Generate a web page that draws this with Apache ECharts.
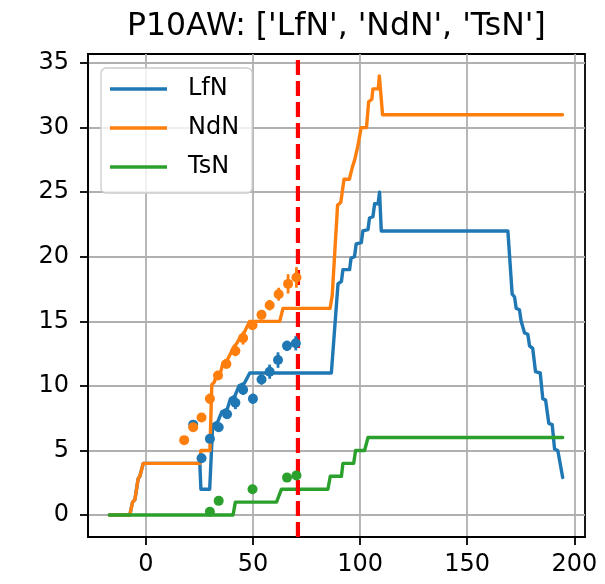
<!DOCTYPE html>
<html>
<head>
<meta charset="utf-8">
<script src="https://cdn.jsdelivr.net/npm/echarts@6/dist/echarts.min.js"></script>
<style>html,body{margin:0;padding:0;background:#fff}#chart{width:605px;height:584px}</style>
</head>
<body>
<div id="chart"></div>
<script>
// ---- data ----
const titleText = "P10AW: ['LfN', 'NdN', 'TsN']";
const seriesNames = ['LfN', 'NdN', 'TsN'];
const xTicks = [0, 50, 100, 150, 200];
const yTicks = [0, 5, 10, 15, 20, 25, 30, 35];

const lfnX = [-17, -7.5, -6.2, -5.1, -3.6, -2.8, -1.2, 25.2, 25.7, 29.8, 31.2, 33.5, 35.5, 38, 39.5, 41.5, 43.5, 46, 48.5, 86.6, 89.7, 91.3, 92.0, 95.1, 95.8, 97.4, 98.2, 100.6, 101.3, 103.7, 104.4, 106.0, 106.8, 108.4, 109.1, 109.9, 169.0, 171.0, 172.1, 172.9, 174.4, 175.2, 176.8, 178.3, 179.1, 180.6, 181.9, 184.1, 185.3, 186.6, 188.1, 189.7, 190.8, 192.3, 194.6];
const lfnY = [0, 0, 1, 1.2, 2.8, 3, 4, 4, 2, 2, 7, 7.2, 8, 8.2, 9, 9.2, 10, 10.2, 11, 11, 17.9, 18.1, 19, 19, 19.9, 20, 21, 21.1, 22, 22.1, 23, 23.1, 24.1, 24.1, 25, 22, 22, 17.1, 16.9, 16, 15.9, 15, 14.1, 14, 13.1, 12.9, 11.1, 11, 9, 8.9, 7.1, 7, 5.1, 5, 2.9];

const ndnX = [-17, -7.5, -6.2, -5.1, -3.6, -2.8, -1.2, 25.2, 25.7, 29.9, 30.8, 32, 33, 35, 36, 38, 39.2, 41, 42.5, 43.8, 45.5, 47, 48.5, 62.5, 64, 86, 87, 89.5, 91, 92.5, 95, 96.5, 97.5, 99, 100.5, 103, 104, 105.5, 106, 108.5, 109, 110.5, 194.5];
const ndnY = [0, 0, 1, 1.2, 2.8, 3, 4, 4, 5, 5, 10.1, 10.3, 10.9, 11.1, 11.8, 12, 12.4, 13, 13.3, 13.7, 14, 14.5, 15, 15, 16, 16, 17, 24, 24.2, 26, 26, 27, 27.5, 28.6, 30, 30, 32, 32.2, 33, 33, 34, 31, 31];

const tsnX = [-17, 40.7, 41.8, 61.0, 63.3, 85.0, 86.1, 91.3, 92.0, 97.0, 97.9, 102.1, 103.7, 194.6];
const tsnY = [0, 0, 1, 1, 2, 2, 3, 3, 4, 4, 5, 5, 6, 6];

const lfnPtX = [22.1, 26.0, 29.9, 34.0, 37.9, 41.8, 45.4, 50.0, 54.0, 57.8, 61.7, 65.9, 70.0];
const lfnPtY = [7.0, 4.4, 5.9, 6.8, 7.8, 8.7, 9.7, 9.0, 10.5, 11.1, 12.0, 13.1, 13.3];
const lfnPtErr = [0.2, 0.2, 0.25, 0.35, 0.35, 0.5, 0.4, 0.4, 0.4, 0.55, 0.6, 0.4, 0.55];

const ndnPtX = [17.9, 22.1, 26.0, 29.9, 33.7, 37.6, 41.8, 45.4, 49.8, 54.0, 57.8, 62.0, 66.4, 70.3];
const ndnPtY = [5.8, 6.8, 7.55, 9.0, 10.8, 11.7, 12.7, 13.7, 14.7, 15.5, 16.25, 17.1, 17.9, 18.4];
const ndnPtErr = [0.2, 0.2, 0.25, 0.4, 0.3, 0.3, 0.4, 0.5, 0.3, 0.35, 0.4, 0.5, 0.75, 0.8];

const tsnPtX = [29.9, 34.0, 49.8, 65.9, 70.3];
const tsnPtY = [0.26, 1.1, 2.0, 2.9, 3.07];
const tsnPtErr = [0.05, 0.05, 0.05, 0.05, 0.05];

const cutoffX = 71;
const xRange = [-27, 205];
const yRange = [-1.7, 35.7];

// ---- build ----
const colors = ['#1f77b4', '#ff7f0e', '#2ca02c'];
const FONT = 'DejaVu Sans';
const zip2 = (a, b) => a.map((v, i) => [v, b[i]]);
const zip3 = (a, b, c) => a.map((v, i) => [v, b[i], c[i]]);

function lineSeries(name, xs, ys, color) {
  return { name, type: 'line', data: zip2(xs, ys), showSymbol: false, symbol: 'none',
    color, lineStyle: { color, width: 3.4, cap: 'round', join: 'round' }, z: 2, silent: true };
}
function errSeries(name, xs, ys, es, color) {
  return { name, type: 'custom', data: zip3(xs, ys, es), z: 4, silent: true,
    renderItem(params, api) {
      const x = api.value(0), y = api.value(1), e = api.value(2);
      const p1 = api.coord([x, y - e]), p2 = api.coord([x, y + e]);
      return { type: 'line', shape: { x1: p1[0], y1: p1[1], x2: p2[0], y2: p2[1] },
        style: { stroke: color, lineWidth: 2.8 } };
    } };
}
function ptSeries(name, xs, ys, color) {
  return { name, type: 'scatter', data: zip2(xs, ys), symbol: 'circle', symbolSize: 10,
    itemStyle: { color, opacity: 1 }, z: 5, silent: true };
}

const chart = echarts.init(document.getElementById('chart'), null, { renderer: 'canvas' });
chart.setOption({
  animation: false,
  backgroundColor: '#fff',
  title: { text: titleText, left: 127, top: 11, padding: 0,
    textStyle: { fontFamily: FONT, fontSize: 31.5, fontWeight: 'normal', color: '#000' } },
  legend: {
    data: seriesNames, orient: 'vertical', left: 101, top: 68,
    padding: [9, 13, 14, 9], itemWidth: 57, itemHeight: 3.5, itemGap: 15, icon: 'rect',
    borderColor: '#cccccc', borderWidth: 1.3, borderRadius: 5, backgroundColor: 'rgba(255,255,255,0.8)',
    textStyle: { fontFamily: FONT, fontSize: 24, color: '#000', padding: [0, 0, 0, 16] },
    selectedMode: false
  },
  grid: { left: 88, right: 20, top: 54, bottom: 47, show: true, borderColor: '#000', borderWidth: 1.8, containLabel: false },
  xAxis: {
    type: 'value', min: xRange[0], max: xRange[1],
    axisLine: { show: true, onZero: false, lineStyle: { color: '#000', width: 1.8 } },
    axisTick: { show: true, customValues: xTicks, length: 8, lineStyle: { color: '#000', width: 1.8 } },
    axisLabel: { customValues: xTicks, fontFamily: FONT, fontSize: 24, color: '#000', margin: 16 },
    splitLine: { show: true, lineStyle: { color: '#b0b0b0', width: 1.8 } }
  },
  yAxis: {
    type: 'value', min: yRange[0], max: yRange[1],
    axisLine: { show: true, onZero: false, lineStyle: { color: '#000', width: 1.8 } },
    axisTick: { show: true, customValues: yTicks, length: 8, lineStyle: { color: '#000', width: 1.8 } },
    axisLabel: { customValues: yTicks, fontFamily: FONT, fontSize: 24, color: '#000', margin: 19 },
    splitLine: { show: true, lineStyle: { color: '#b0b0b0', width: 1.8 } }
  },
  series: [
    lineSeries('LfN', lfnX, lfnY, colors[0]),
    lineSeries('NdN', ndnX, ndnY, colors[1]),
    lineSeries('TsN', tsnX, tsnY, colors[2]),
    { name: 'cutoff', type: 'line', data: [[cutoffX, yRange[0]], [cutoffX, yRange[1]]], symbol: 'none',
      lineStyle: { color: '#ff0000', width: 4.2, type: [15, 6] }, z: 3, silent: true },
    errSeries('LfN_err', lfnPtX, lfnPtY, lfnPtErr, colors[0]),
    ptSeries('LfN_pts', lfnPtX, lfnPtY, colors[0]),
    errSeries('NdN_err', ndnPtX, ndnPtY, ndnPtErr, colors[1]),
    ptSeries('NdN_pts', ndnPtX, ndnPtY, colors[1]),
    errSeries('TsN_err', tsnPtX, tsnPtY, tsnPtErr, colors[2]),
    ptSeries('TsN_pts', tsnPtX, tsnPtY, colors[2])
  ]
});
</script>
</body>
</html>
